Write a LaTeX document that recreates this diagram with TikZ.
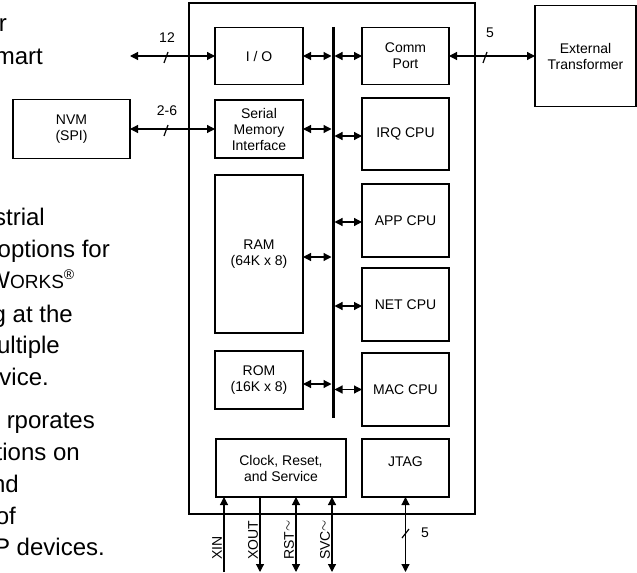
\documentclass[tikz,border=0pt]{standalone}
\usepackage{fontspec}
\setmainfont{Liberation Sans}
\usetikzlibrary{arrows.meta}
\begin{document}
\begin{tikzpicture}[x=1bp,y=-1bp,
  blk/.style={draw, line width=1.3bp, inner sep=0pt, outer sep=0pt, align=center,
    font=\fontsize{14bp}{16bp}\selectfont},
  conn/.style={line width=1.2bp},
  dbl/.style={conn, {Triangle[length=8bp,width=8bp]}-{Triangle[length=8bp,width=8bp]}},
  tipend/.style={conn, -{Triangle[length=8bp,width=8bp]}},
  buslbl/.style={font=\fontsize{14bp}{16bp}\selectfont, inner sep=0pt},
  side/.style={font=\fontsize{24bp}{28bp}\selectfont, inner sep=0pt, anchor=base east},
  pin/.style={font=\fontsize{14bp}{16bp}\selectfont, inner sep=0pt, rotate=90, anchor=west}
]
\useasboundingbox (0,0) rectangle (637,573);

% cut-off page text on the left
\node[side] (t1) at (7,32) {r};
\node[side] (t2) at (43,65) {mart};
\node[side] (t3) at (45,225) {strial};
\node[side] (t4) at (110,257) {options for};
\node[side] (t5) at (75,288) {W{\fontsize{19bp}{20bp}\selectfont ORKS}\textsuperscript{\fontsize{14bp}{14bp}\selectfont ®}};
\node[side] (t6) at (73,322) {g at the};
\node[side] (t7) at (60,353) {ultiple};
\node[side] (t8) at (49,385) {vice.};
\node[side] (t9) at (95,428) {rporates};
\node[side] (t10) at (80,460) {tions on};
\node[side] (t11) at (19,492) {nd};
\node[side] (t12) at (16,524) {of};
\node[side] (t13) at (105,555) {P devices.};

% chip outline
\node[draw, line width=1.5bp, minimum width=286bp, minimum height=511bp, inner sep=0pt, outer sep=0pt] (chip) at (332,258.5) {};

% blocks
\node[blk, minimum width=88bp, minimum height=57bp] (io) at (259,56) {I / O};
\node[blk, minimum width=88bp, minimum height=58bp] (smi) at (259,129) {Serial\\Memory\\Interface};
\node[blk, minimum width=88bp, minimum height=158bp] (ram) at (259,254) {RAM\\(64K x 8)};
\node[blk, minimum width=88bp, minimum height=58bp] (rom) at (259,380) {ROM\\(16K x 8)};
\node[blk, minimum width=87bp, minimum height=57bp] (comm) at (405.5,56) {Comm\\Port};
\node[blk, minimum width=87bp, minimum height=72bp] (irq) at (405.5,134) {IRQ CPU};
\node[blk, minimum width=87bp, minimum height=73bp] (app) at (405.5,220.5) {APP CPU};
\node[blk, minimum width=87bp, minimum height=73bp] (net) at (405.5,304.5) {NET CPU};
\node[blk, minimum width=87bp, minimum height=73bp] (mac) at (405.5,389.5) {MAC CPU};
\node[blk, minimum width=130bp, minimum height=58bp] (clk) at (281,468) {Clock, Reset,\\and Service};
\node[blk, minimum width=87bp, minimum height=58bp] (jtag) at (405.5,468) {};
\node[buslbl] (jtagtxt) at (405.5,462) {JTAG};
\node[blk, minimum width=101bp, minimum height=101bp] (ext) at (585.5,56) {External\\Transformer};
\node[blk, minimum width=117bp, minimum height=59bp] (nvm) at (71.5,129) {NVM\\(SPI)};

% internal bus
\coordinate (bustop) at (333,27);
\coordinate (busbot) at (333,418);
\coordinate (busL) at (331.5,0);
\coordinate (busR) at (334.5,0);
\draw[line width=3bp] (bustop) -- (busbot);

\draw[dbl] (io.east) -- (io.east -| busL);
\draw[dbl] (busR |- comm.west) -- (comm.west);
\draw[dbl] (smi.east) -- (smi.east -| busL);
\draw[dbl] ([yshift=-2bp]busR |- irq.west) -- ([yshift=-2bp]irq.west);
\draw[dbl] ([yshift=-3bp]ram.east) -- ([yshift=-3bp]ram.east -| busL);
\draw[dbl] ([yshift=-1.5bp]busR |- app.west) -- ([yshift=-1.5bp]app.west);
\draw[dbl] ([yshift=-1.5bp]busR |- net.west) -- ([yshift=-1.5bp]net.west);
\draw[dbl] ([yshift=-4bp]rom.east) -- ([yshift=-4bp]rom.east -| busL);
\draw[dbl] (busR |- mac.west) -- (mac.west);

% external connections
\coordinate (ioext) at (130,56);
\draw[dbl] (ioext) -- (io.west);
\draw[conn] (164,63) -- (168,52);
\node[buslbl] (l12) at (167,38) {12};

\draw[dbl] (nvm.east) -- (smi.west);
\draw[conn] (164,136) -- (168,125);
\node[buslbl] (l26) at (167,111) {2-6};

\draw[dbl] (comm.east) -- (ext.west);
\draw[conn] (483,63) -- (487,52);
\node[buslbl] (l5) at (490,33) {5};

% bottom pins
\coordinate (xin) at (224,572);
\coordinate (xout) at (260,572);
\coordinate (rst) at (296,572);
\coordinate (svc) at (332,572);
\coordinate (jt) at (405.5,572);
\draw[tipend] (xin) -- (xin |- clk.south);
\draw[tipend] (xout |- clk.south) -- (xout);
\draw[dbl] (rst |- clk.south) -- (rst);
\draw[dbl] (svc |- clk.south) -- (svc);
\draw[dbl] (jtag.south) -- (jt);
\draw[conn] (402,538) -- (409,529);
\node[buslbl] (l5b) at (425,533) {5};

\node[pin] (pxin) at (217,560) {XIN};
\node[pin] (pxout) at (253,560) {XOUT};
\node[pin] (prst) at (289,560) {RST\raisebox{0.3ex}{$\sim$}};
\node[pin] (psvc) at (325,560) {SVC\raisebox{0.3ex}{$\sim$}};
\end{tikzpicture}
\end{document}
